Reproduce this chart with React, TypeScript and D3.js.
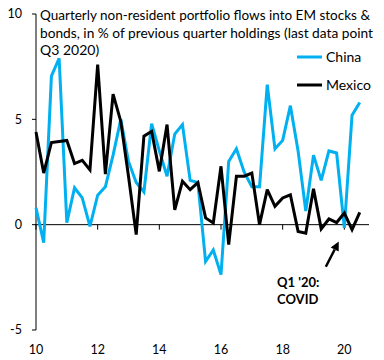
import React from "react";
import * as d3 from "d3";

// Quarterly data, Q1 2010 .. Q3 2020 (x = 10 + quarterIndex/4)
const startYear = 10;
const china = [
  0.8, -0.85, 7.05, 7.9, 0.1, 1.75, 1.27, -0.08, 1.4, 1.8,
  3.3, 5.0, 3.0, 2.0, 1.55, 4.8, 3.5, 2.3, 4.3, 4.75,
  2.1, 2.0, -1.75, -1.2, -2.37, 3.0, 3.6, 2.5, 1.8, 1.8,
  6.65, 3.6, 4.0, 5.65, 3.5, 0.65, 3.3, 2.1, 3.5, 3.4,
  -0.15, 5.2, 5.8,
];
const mexico = [
  4.4, 2.45, 3.9, 3.95, 4.0, 2.9, 3.05, 2.6, 7.6, 2.4,
  6.2, 4.9, 2.3, -0.47, 4.2, 4.43, 2.53, 4.75, 0.7, 2.06,
  1.66, 2.0, 0.32, 0.08, 2.77, -0.95, 2.3, 2.3, 2.45, 0.0,
  1.66, 0.87, 1.27, 1.42, -0.32, -0.4, 1.7, -0.2, 0.27, 0.1,
  0.55, -0.24, 0.58,
];
const seriesNames = ["China", "Mexico"];
const seriesColors = ["#00B0F0", "#000000"];
const xTicks = [10, 12, 14, 16, 18, 20];
const yTicks = [-5, 0, 5, 10];
const titleLines = [
  "Quarterly non-resident portfolio flows into EM stocks &",
  "bonds, in % of previous quarter holdings (last data point",
  "Q3 2020)",
];
const annotationLines = ["Q1 '20:", "COVID"];
// arrow in data coordinates: [x, y] tail -> head
const arrowTail = [19.4, -2.0];
const arrowHead = [19.82, -0.8];

export default function App() {
  const W = 384;
  const H = 360;
  const x = d3.scaleLinear().domain([10, 20.8]).range([36, 369]);
  const y = d3.scaleLinear().domain([-5, 10]).range([330, 14]);
  const line = d3
    .line<number>()
    .x((_, i) => x(startYear + i / 4))
    .y((d) => y(d));

  const font = "Lato, 'Noto Sans', sans-serif";
  const series = [china, mexico];

  const tx = x(arrowTail[0]);
  const ty = y(arrowTail[1]);
  const hx = x(arrowHead[0]);
  const hy = y(arrowHead[1]);
  const ang = Math.atan2(hy - ty, hx - tx);
  const hl = 9;
  const hw = 4.5;
  const bx = hx - hl * Math.cos(ang);
  const by = hy - hl * Math.sin(ang);
  const p1 = [bx + hw * Math.sin(ang), by - hw * Math.cos(ang)];
  const p2 = [bx - hw * Math.sin(ang), by + hw * Math.cos(ang)];

  return (
    <svg
      width={W}
      height={H}
      style={{ position: "absolute", left: 0, top: 0, background: "#fff" }}
      fontFamily={font}
    >
      <rect width={W} height={H} fill="#fff" />
      {/* y axis */}
      <line x1={x(10)} x2={x(10)} y1={y(10)} y2={y(-5)} stroke="#000" strokeWidth={1} />
      {yTicks.map((t) => (
        <g key={t}>
          <line x1={x(10) - 4} x2={x(10)} y1={y(t)} y2={y(t)} stroke="#000" />
          <text x={22} y={y(t)} dy="0.35em" textAnchor="end" fontSize={12.5} fill="#000">
            {t}
          </text>
        </g>
      ))}
      {/* x axis at zero */}
      <line x1={x(10)} x2={x(20.8)} y1={y(0)} y2={y(0)} stroke="#000" strokeWidth={1} />
      {xTicks.map((t) => (
        <g key={t}>
          <line x1={x(t)} x2={x(t)} y1={y(0)} y2={y(0) + 5} stroke="#000" />
          <text x={x(t)} y={350} dy="0.35em" textAnchor="middle" fontSize={12.5} fill="#000">
            {t}
          </text>
        </g>
      ))}
      {/* series */}
      {series.map((s, k) => (
        <path
          key={k}
          d={line(s) || ""}
          fill="none"
          stroke={seriesColors[k]}
          strokeWidth={3}
          strokeLinejoin="miter"
          strokeMiterlimit={3}
        />
      ))}
      {/* title */}
      {titleLines.map((t, i) => (
        <text
          key={i}
          x={40}
          y={20 + i * 17.5}
          fontSize={14}
          fill="#000"
          textLength={i === 0 ? 330 : i === 1 ? 333 : undefined}
          lengthAdjust="spacingAndGlyphs"
        >
          {t}
        </text>
      ))}
      {/* legend */}
      {seriesNames.map((n, i) => (
        <g key={n}>
          <line x1={297} x2={322} y1={57 + i * 28} y2={57 + i * 28} stroke={seriesColors[i]} strokeWidth={3} />
          <text x={326} y={57 + i * 28} dy="0.35em" fontSize={14} fill="#000">
            {n}
          </text>
        </g>
      ))}
      {/* annotation */}
      <line x1={tx} y1={ty} x2={bx} y2={by} stroke="#000" strokeWidth={2.5} />
      <polygon points={`${hx},${hy} ${p1[0]},${p1[1]} ${p2[0]},${p2[1]}`} fill="#000" />
      {annotationLines.map((t, i) => (
        <text key={i} x={277} y={287 + i * 17} fontSize={13} fontWeight="bold" fill="#000">
          {t}
        </text>
      ))}
    </svg>
  );
}
